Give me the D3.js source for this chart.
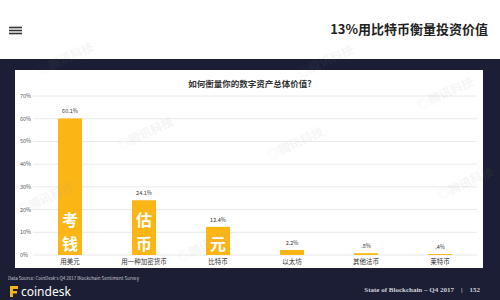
<!DOCTYPE html>
<html>
<head>
<meta charset="utf-8">
<script src="https://cdn.jsdelivr.net/npm/d3@7"></script>
<style>
  body { margin: 0; background: #fff; }
  svg { display: block; font-family: "Noto Sans CJK SC", "Noto Sans", sans-serif; }
</style>
</head>
<body>
<script>
// data
const categories = ["用美元", "用一种加密货币", "比特币", "以太坊", "其他法币", "莱特币"];
const values = [60.1, 24.1, 12.4, 2.2, 0.8, 0.4];
const valueLabels = ["60.1%", "24.1%", "12.4%", "2.2%", ".8%", ".4%"];
const yTicks = [0, 10, 20, 30, 40, 50, 60, 70];

const W = 500, H = 300;

const svg = d3.select("body")
    .append("svg")
    .attr("width", W)
    .attr("height", H);

// page header
svg.append("rect").attr("width", W).attr("height", 59).attr("fill", "#fff");
[27.5, 30.5, 33.5].forEach(y => {
    svg.append("rect").attr("x", 9).attr("y", y - 0.8).attr("width", 13).attr("height", 1.6).attr("fill", "#333");
});
svg.append("text")
    .attr("x", 488).attr("y", 34)
    .attr("text-anchor", "end")
    .attr("font-size", 13).attr("font-weight", "bold")
    .attr("fill", "#222")
    .text("13%用比特币衡量投资价值");

// dark slide background
svg.append("rect").attr("y", 59).attr("width", W).attr("height", H - 59).attr("fill", "#1b1e34");

// white chart panel
svg.append("rect")
    .attr("x", 15).attr("y", 70)
    .attr("width", 468).attr("height", 198)
    .attr("fill", "#fff");

svg.append("text")
    .attr("x", 250).attr("y", 87)
    .attr("text-anchor", "middle")
    .attr("font-size", 8.5).attr("font-weight", "bold")
    .attr("fill", "#333")
    .text("如何衡量你的数字资产总体价值?");

// scales
const x = d3.scaleBand()
    .domain(categories)
    .range([33, 477])
    .paddingInner(0.675)
    .paddingOuter(0.3375);

const y = d3.scaleLinear()
    .domain([0, 70])
    .range([255, 96]);

// gridlines
svg.append("g")
    .selectAll("line")
    .data(yTicks)
    .enter()
    .append("line")
    .attr("x1", 33).attr("x2", 477)
    .attr("y1", d => y(d)).attr("y2", d => y(d))
    .attr("stroke", "#e4e4e4").attr("stroke-width", 0.8);

// y tick labels
svg.append("g")
    .selectAll("text")
    .data(yTicks)
    .enter()
    .append("text")
    .attr("x", 20).attr("y", d => y(d) + 2)
    .attr("font-size", 5.5)
    .attr("fill", "#555")
    .text(d => d + "%");

// bars
svg.append("g")
    .selectAll("rect")
    .data(values)
    .enter()
    .append("rect")
    .attr("x", (d, i) => x(categories[i]))
    .attr("y", d => y(d))
    .attr("width", x.bandwidth())
    .attr("height", d => y(0) - y(d))
    .attr("fill", "#fbb616");

// value labels
svg.append("g")
    .selectAll("text")
    .data(values)
    .enter()
    .append("text")
    .attr("x", (d, i) => x(categories[i]) + x.bandwidth() / 2)
    .attr("y", d => y(d) - 5)
    .attr("text-anchor", "middle")
    .attr("font-size", 5.5)
    .attr("fill", "#333")
    .text((d, i) => valueLabels[i]);

// category labels
svg.append("g")
    .selectAll("text")
    .data(categories)
    .enter()
    .append("text")
    .attr("x", d => x(d) + x.bandwidth() / 2)
    .attr("y", 264)
    .attr("text-anchor", "middle")
    .attr("font-size", 6.5)
    .attr("fill", "#333")
    .text(d => d);

// white overlay characters from the page (only visible over the bars)
const overlay = [["考", 0, 226], ["钱", 0, 250], ["估", 1, 226], ["币", 1, 250], ["元", 2, 250]];
svg.append("g")
    .selectAll("text")
    .data(overlay)
    .enter()
    .append("text")
    .attr("x", d => x(categories[d[1]]) + x.bandwidth() / 2)
    .attr("y", d => d[2])
    .attr("text-anchor", "middle")
    .attr("font-size", 16).attr("font-weight", "bold")
    .attr("fill", "#fff")
    .text(d => d[0]);

// footer
svg.append("text")
    .attr("x", 8).attr("y", 280)
    .attr("font-size", 4.5)
    .attr("fill", "#c8c8d0")
    .text("Data Source: CoinDesk's Q4 2017 Blockchain Sentiment Survey");

svg.append("rect").attr("x", 10).attr("y", 286).attr("width", 3).attr("height", 11).attr("fill", "#f5b21b");
svg.append("rect").attr("x", 13).attr("y", 286).attr("width", 5).attr("height", 3).attr("fill", "#f5b21b");
svg.append("rect").attr("x", 13).attr("y", 291).attr("width", 4).attr("height", 2.5).attr("fill", "#f5b21b");
svg.append("text")
    .attr("x", 21).attr("y", 296)
    .attr("font-family", "Noto Sans, sans-serif")
    .attr("font-size", 12)
    .attr("fill", "#fff")
    .text("coindesk");

svg.append("text")
    .attr("x", 480).attr("y", 292)
    .attr("text-anchor", "end")
    .attr("font-family", "Liberation Serif, serif")
    .attr("font-size", 7).attr("font-weight", "bold")
    .attr("fill", "#d0d0d8")
    .attr("xml:space", "preserve")
    .text("State of Blockchain – Q4 2017    |    152");

// faint site watermarks
const marks = [[40, 75], [300, 78], [120, 150], [270, 160], [420, 110], [180, 262], [440, 200], [20, 215]];
svg.append("g")
    .selectAll("text")
    .data(marks)
    .enter()
    .append("text")
    .attr("transform", d => `translate(${d[0]},${d[1]}) rotate(-25)`)
    .attr("font-size", 12).attr("font-weight", "bold")
    .attr("fill", "#8890a0").attr("opacity", 0.08)
    .text("◎腾讯科技");
</script>
</body>
</html>
